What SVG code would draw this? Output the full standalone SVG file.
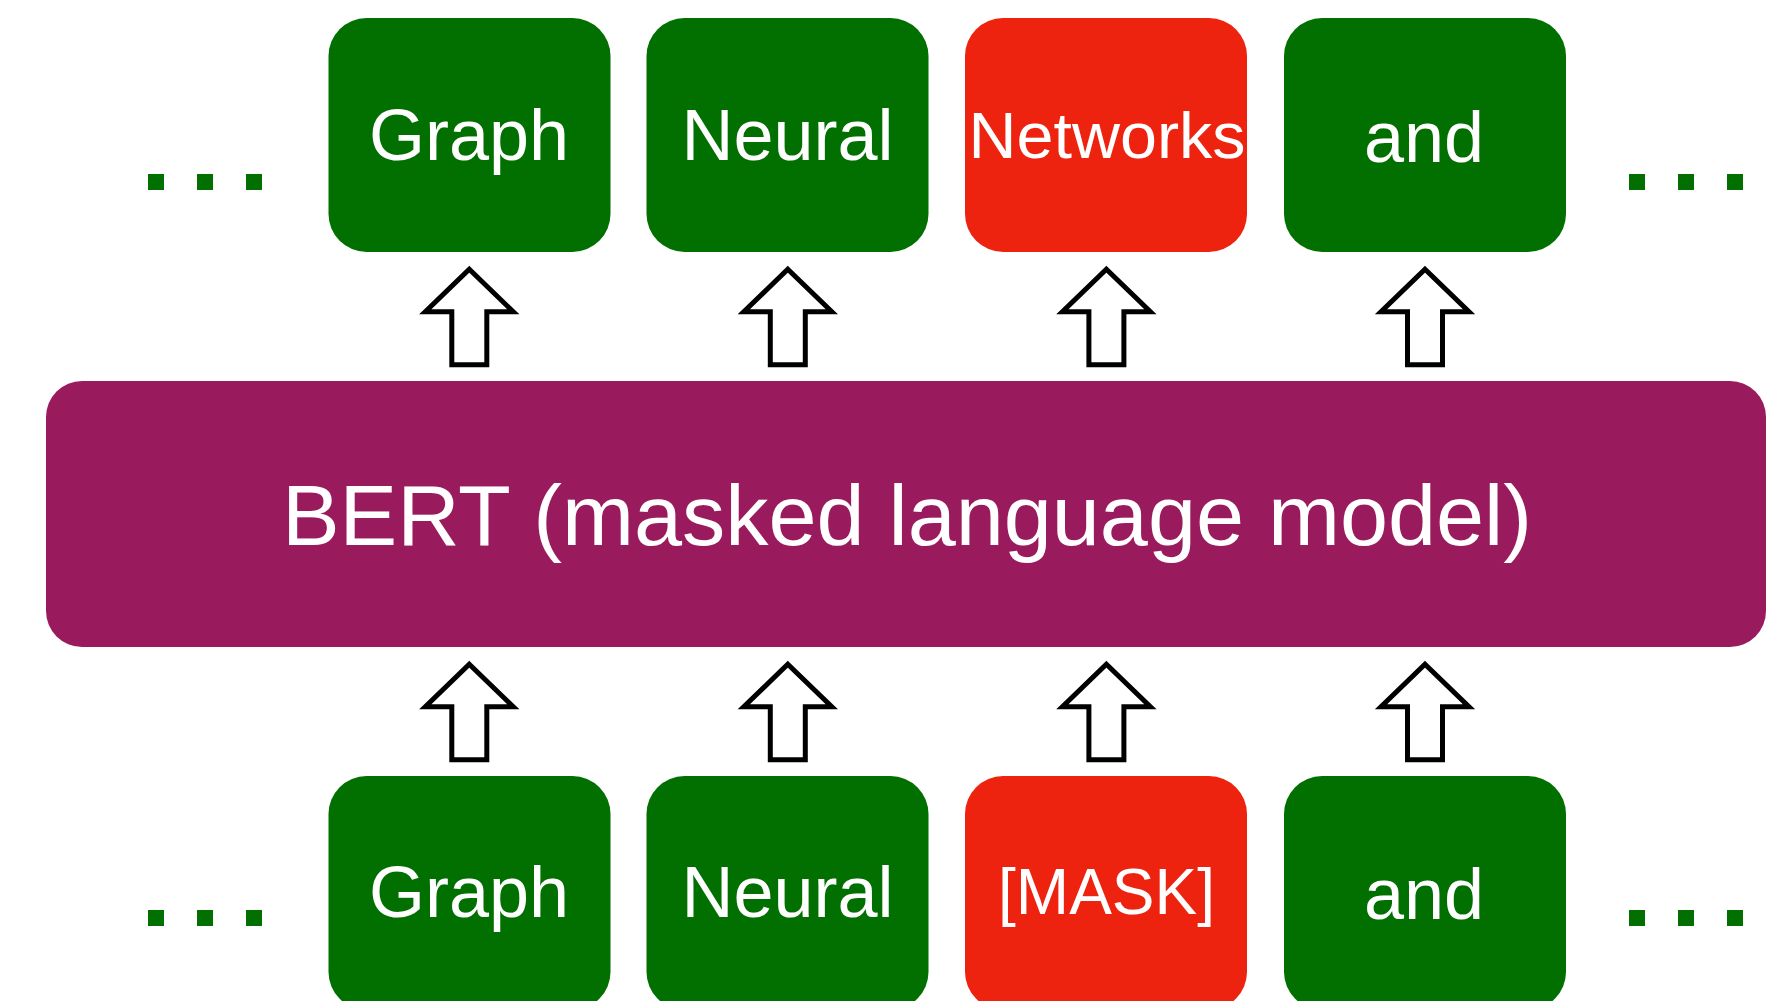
<svg xmlns="http://www.w3.org/2000/svg" width="1788" height="1001" viewBox="0 0 1788 1001">
<style>
.t{font-family:"Liberation Sans",Arial,Helvetica,sans-serif;fill:#fff;text-anchor:middle}
.g{fill:#027000}
.r{fill:#EE230F}
.dot{fill:#027000}
.arr{fill:#fff;stroke:#000;stroke-width:5;stroke-linejoin:miter;stroke-miterlimit:10}
</style>
<defs>
<path id="arrow" d="M0,0 L44,42.6 L17.5,42.6 L17.5,95.6 L-17.5,95.6 L-17.5,42.6 L-44,42.6 Z"/>
</defs>
<rect width="1788" height="1001" fill="#fff"/>

<g id="dots-top-left"><rect class="dot" x="148" y="174" width="16" height="16"/><rect class="dot" x="197" y="174" width="16" height="16"/><rect class="dot" x="246" y="174" width="16" height="16"/></g>
<g id="dots-top-right"><rect class="dot" x="1629" y="174" width="16" height="16"/><rect class="dot" x="1678" y="174" width="16" height="16"/><rect class="dot" x="1727" y="174" width="16" height="16"/></g>
<g id="dots-bottom-left"><rect class="dot" x="148" y="910" width="16" height="16"/><rect class="dot" x="197" y="910" width="16" height="16"/><rect class="dot" x="246" y="910" width="16" height="16"/></g>
<g id="dots-bottom-right"><rect class="dot" x="1629" y="910" width="16" height="16"/><rect class="dot" x="1678" y="910" width="16" height="16"/><rect class="dot" x="1727" y="910" width="16" height="16"/></g>

<g id="out-graph"><rect class="g" x="328.5" y="18" width="282" height="234" rx="38"/><text class="t" x="469" y="160" font-size="72" textLength="200">Graph</text></g>
<g id="out-neural"><rect class="g" x="646.5" y="18" width="282" height="234" rx="38"/><text class="t" x="787.5" y="160" font-size="72">Neural</text></g>
<g id="out-networks"><rect class="r" x="965" y="18" width="282" height="234" rx="38"/><text class="t" x="1107" y="158" font-size="65" textLength="277" lengthAdjust="spacingAndGlyphs">Networks</text></g>
<g id="out-and"><rect class="g" x="1284" y="18" width="282" height="234" rx="38"/><text class="t" x="1424" y="162" font-size="72">and</text></g>

<g id="bert"><rect x="46" y="381" width="1720" height="266" rx="36" fill="#9A1A5E"/><text class="t" x="907" y="545" font-size="86" textLength="1250" lengthAdjust="spacingAndGlyphs">BERT (masked language model)</text></g>

<g id="in-graph"><rect class="g" x="328.5" y="776" width="282" height="234" rx="38"/><text class="t" x="469" y="917" font-size="72" textLength="200">Graph</text></g>
<g id="in-neural"><rect class="g" x="646.5" y="776" width="282" height="234" rx="38"/><text class="t" x="787.5" y="917" font-size="72">Neural</text></g>
<g id="in-mask"><rect class="r" x="965" y="776" width="282" height="234" rx="38"/><text class="t" x="1106.5" y="914" font-size="64">[MASK]</text></g>
<g id="in-and"><rect class="g" x="1284" y="776" width="282" height="234" rx="38"/><text class="t" x="1424" y="919" font-size="72">and</text></g>

<g id="connectors">
<use href="#arrow" class="arr" x="469.3" y="269.2"/>
<use href="#arrow" class="arr" x="787.8" y="269.2"/>
<use href="#arrow" class="arr" x="1106.4" y="269.2"/>
<use href="#arrow" class="arr" x="1425" y="269.2"/>
<use href="#arrow" class="arr" x="469.3" y="664.2"/>
<use href="#arrow" class="arr" x="787.8" y="664.2"/>
<use href="#arrow" class="arr" x="1106.4" y="664.2"/>
<use href="#arrow" class="arr" x="1425" y="664.2"/>
</g>
</svg>
